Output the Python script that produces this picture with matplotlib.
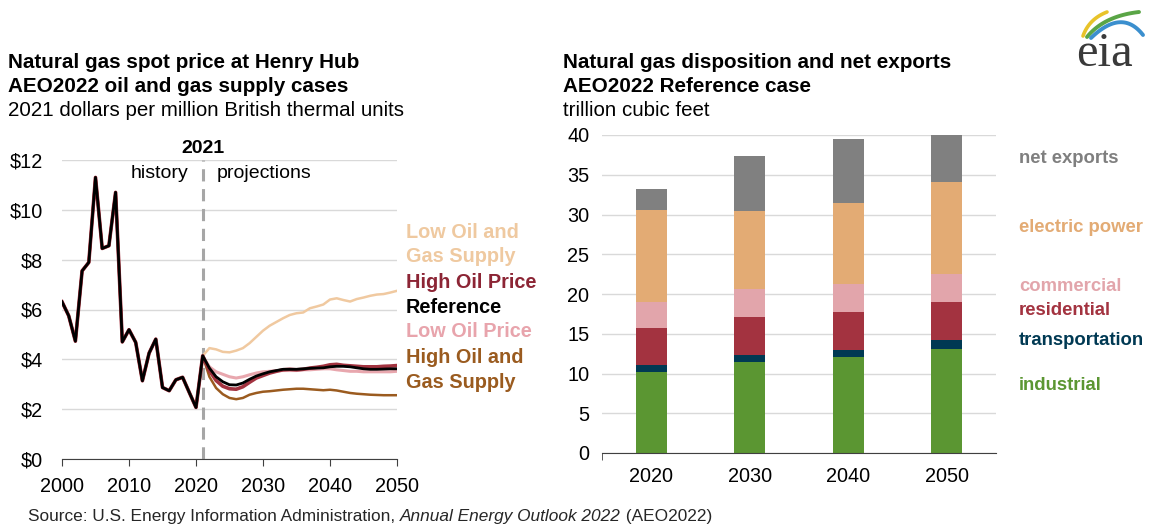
import numpy as np
import matplotlib
matplotlib.use("Agg")
import matplotlib.pyplot as plt

plt.rcParams['font.family'] = ['Liberation Sans', 'DejaVu Sans']

# ---- left chart data: Henry Hub spot price, 2021 $/MMBtu ----
hist_years = list(range(2000, 2022))
hist_price = [6.31, 5.75, 4.73, 7.55, 7.89, 11.3, 8.45, 8.56, 10.7, 4.7, 5.19,
              4.68, 3.14, 4.25, 4.81, 2.87, 2.74, 3.18, 3.28, 2.67, 2.07, 4.14]
proj_years = list(range(2022, 2051))
low_oil_gas = [4.45, 4.4, 4.3, 4.28, 4.35, 4.45, 4.65, 4.9, 5.15, 5.35, 5.5, 5.65,
               5.78, 5.85, 5.88, 6.05, 6.12, 6.2, 6.4, 6.45, 6.38, 6.32, 6.42,
               6.48, 6.55, 6.6, 6.62, 6.68, 6.75]
reference = [3.65, 3.3, 3.1, 2.98, 2.97, 3.05, 3.2, 3.33, 3.42, 3.5, 3.55, 3.6,
             3.6, 3.6, 3.62, 3.64, 3.65, 3.66, 3.7, 3.72, 3.72, 3.7, 3.66, 3.62,
             3.6, 3.6, 3.61, 3.62, 3.62]
high_oil = [3.55, 3.15, 2.92, 2.82, 2.8, 2.9, 3.08, 3.25, 3.35, 3.45, 3.52, 3.58,
            3.6, 3.58, 3.6, 3.65, 3.68, 3.72, 3.78, 3.8, 3.76, 3.74, 3.72, 3.7,
            3.7, 3.7, 3.72, 3.73, 3.75]
low_oil = [3.7, 3.5, 3.4, 3.3, 3.25, 3.3, 3.38, 3.45, 3.5, 3.52, 3.55, 3.55,
           3.55, 3.55, 3.58, 3.58, 3.6, 3.62, 3.62, 3.58, 3.55, 3.52, 3.52, 3.5,
           3.5, 3.5, 3.5, 3.5, 3.52]
high_oil_gas = [3.3, 2.85, 2.6, 2.45, 2.4, 2.45, 2.58, 2.65, 2.7, 2.72, 2.75, 2.78,
                2.8, 2.82, 2.82, 2.8, 2.78, 2.76, 2.78, 2.75, 2.7, 2.65, 2.62,
                2.6, 2.58, 2.57, 2.56, 2.56, 2.56]

# ---- right chart data: disposition, trillion cubic feet ----
bar_years = ['2020', '2030', '2040', '2050']
industrial = [10.2, 11.4, 12.1, 13.1]
transportation = [0.85, 0.9, 0.85, 1.1]
residential = [4.7, 4.8, 4.8, 4.8]
commercial = [3.2, 3.55, 3.55, 3.55]
electric_power = [11.6, 9.8, 10.2, 11.5]
net_exports = [2.6, 6.9, 7.95, 5.95]

W, H = 1149, 525
fig = plt.figure(figsize=(W / 100, H / 100), dpi=100)

def fx(px):
    return px / W

def fy(py):
    return 1 - py / H

# ================= left chart =================
ax1 = fig.add_axes([fx(62), fy(459), fx(335), 299 / H])
yrs = np.array(hist_years + proj_years)
series = [
    (low_oil_gas, '#f0c9a0', 1.8),
    (low_oil, '#e8a7ae', 2.2),
    (high_oil_gas, '#9b5b1f', 1.8),
    (high_oil, '#a33340', 2.6),
    (reference, '#000000', 2.0),
]
for vals, col, lw in series:
    ax1.plot(yrs, hist_price + vals, color=col, lw=lw, solid_joinstyle='round')

ax1.axvline(2021, color='#a6a6a6', lw=2.2, dashes=(4, 2.5), zorder=1)
ax1.set_xlim(2000, 2050)
ax1.set_ylim(0, 12)
ax1.set_yticks(range(0, 13, 2))
ax1.set_yticklabels(['$%d' % v for v in range(0, 13, 2)])
ax1.set_xticks(range(2000, 2051, 10))
ax1.grid(axis='y', color='#d9d9d9', lw=1)
ax1.set_axisbelow(True)
for s in ['top', 'right', 'left']:
    ax1.spines[s].set_visible(False)
ax1.spines['bottom'].set_color('#404040')
ax1.tick_params(axis='y', length=0, labelsize=14.3, pad=14)
ax1.tick_params(axis='x', length=5, color='#404040', labelsize=14.3, pad=8)

ax1.text(2021, 12.45, '2021', ha='center', va='center', fontsize=14,
         fontweight='bold')
ax1.text(2018.8, 11.45, 'history', ha='right', va='center', fontsize=14)
ax1.text(2023.1, 11.45, 'projections', ha='left', va='center', fontsize=14)

lx = 2051.3
left_labels = [
    ('Low Oil and', '#efc9a0', 9.11),
    ('Gas Supply', '#efc9a0', 8.11),
    ('High Oil Price', '#8c2535', 7.10),
    ('Reference', '#000000', 6.10),
    ('Low Oil Price', '#e8a4ac', 5.10),
    ('High Oil and', '#9a5b1f', 4.09),
    ('Gas Supply', '#9a5b1f', 3.09),
]
for txt, col, yv in left_labels:
    ax1.text(lx, yv, txt, color=col, fontsize=14.3, fontweight='bold',
             va='center', ha='left', clip_on=False)

fig.text(fx(8), fy(62), 'Natural gas spot price at Henry Hub',
         fontsize=14.9, fontweight='bold', va='center')
fig.text(fx(8), fy(87), 'AEO2022 oil and gas supply cases',
         fontsize=14.9, fontweight='bold', va='center')
fig.text(fx(8), fy(111), '2021 dollars per million British thermal units',
         fontsize=14.8, va='center')

# ================= right chart =================
ax2 = fig.add_axes([fx(602), fy(453), fx(394), 318 / H])
x = np.arange(len(bar_years))
stack = [
    (industrial, '#5b9632'),
    (transportation, '#003953'),
    (residential, '#a33340'),
    (commercial, '#e2a5ab'),
    (electric_power, '#e3ab74'),
    (net_exports, '#808080'),
]
bottom = np.zeros(len(bar_years))
for vals, col in stack:
    ax2.bar(x, vals, bottom=bottom, width=0.315, color=col, zorder=2)
    bottom = bottom + np.array(vals)

ax2.set_xlim(-0.5, 3.5)
ax2.set_ylim(0, 40)
ax2.set_yticks(range(0, 41, 5))
ax2.set_xticks(x)
ax2.set_xticklabels(bar_years)
ax2.set_xticks([-0.5], minor=True)
ax2.grid(axis='y', color='#d9d9d9', lw=1)
ax2.set_axisbelow(True)
for s in ['top', 'right', 'left']:
    ax2.spines[s].set_visible(False)
ax2.spines['bottom'].set_color('#404040')
ax2.tick_params(axis='y', length=0, labelsize=14.3, pad=9)
ax2.tick_params(axis='x', which='major', length=0, labelsize=14.3, pad=10)
ax2.tick_params(axis='x', which='minor', length=5, color='#404040')

rx = 3.733
right_labels = [
    ('net exports', '#7f7f7f', 37.1),
    ('electric power', '#e3ab74', 28.4),
    ('commercial', '#e2a5ab', 20.9),
    ('residential', '#a33340', 17.9),
    ('transportation', '#003953', 14.2),
    ('industrial', '#5b9632', 8.55),
]
for txt, col, yv in right_labels:
    ax2.text(rx, yv, txt, color=col, fontsize=13.3, fontweight='bold',
             va='center', ha='left', clip_on=False)

fig.text(fx(563), fy(62), 'Natural gas disposition and net exports',
         fontsize=14.9, fontweight='bold', va='center')
fig.text(fx(563), fy(87), 'AEO2022 Reference case',
         fontsize=14.9, fontweight='bold', va='center')
fig.text(fx(563), fy(111), 'trillion cubic feet',
         fontsize=14.8, va='center')

# ---- source line: plain / italic / plain pieces laid end to end ----
renderer = fig.canvas.get_renderer()
src_parts = [('Source: U.S. Energy Information Administration, ', 'normal'),
             ('Annual Energy Outlook 2022', 'italic'),
             (' (AEO2022)', 'normal')]
xpos = 28
for txt, style in src_parts:
    t = fig.text(fx(xpos), fy(516), txt, fontsize=12.4, style=style,
                 color='#262626', va='center')
    xpos = t.get_window_extent(renderer).x1

# ---- eia logo ----
lax = fig.add_axes([fx(1060), fy(80), fx(89), 80 / H])
lax.set_xlim(1060, 1149)
lax.set_ylim(80, 0)
lax.axis('off')
lax.text(1104, 66, 'eia', family='Liberation Serif', fontsize=35,
         color='#3a3a3a', ha='center', va='baseline')
tt = np.linspace(0, 1, 50)
for col, p0, p1, p2, lw in [('#e8c32a', (1083, 36), (1089, 19), (1107, 12), 2.6),
                            ('#5aa546', (1087, 37), (1104, 16), (1139, 12), 2.8),
                            ('#3b8fce', (1091, 38), (1122, 8), (1143, 35), 2.8)]:
    bx = (1 - tt) ** 2 * p0[0] + 2 * (1 - tt) * tt * p1[0] + tt ** 2 * p2[0]
    by = (1 - tt) ** 2 * p0[1] + 2 * (1 - tt) * tt * p1[1] + tt ** 2 * p2[1]
    lax.plot(bx, by, color=col, lw=lw, solid_capstyle='round')

fig.savefig('out.png', dpi=100)
